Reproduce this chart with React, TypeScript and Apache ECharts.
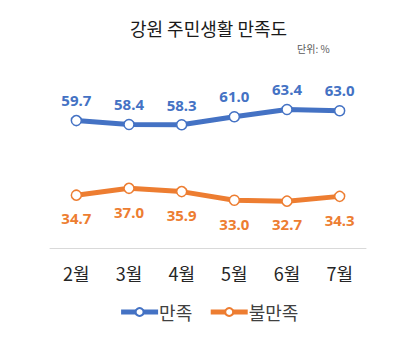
import React, { useEffect, useRef } from "react";
import * as echarts from "echarts";

const categories = ["2월", "3월", "4월", "5월", "6월", "7월"];
const satisfied = [59.7, 58.4, 58.3, 61.0, 63.4, 63.0];
const dissatisfied = [34.7, 37.0, 35.9, 33.0, 32.7, 34.3];
const seriesNames = ["만족", "불만족"];

const BLUE = "#4472C4";
const ORANGE = "#ED7D31";
const KR = "'Noto Sans CJK KR', 'Noto Sans', sans-serif";

export default function App() {
  const ref = useRef<HTMLDivElement>(null);
  useEffect(() => {
    if (!ref.current) return;
    const chart = echarts.init(ref.current, null, { renderer: "svg" });
    const mkSeries = (name: string, data: number[], color: string, pos: string, dist: number) => ({
      name,
      type: "line",
      data,
      symbol: "circle",
      symbolSize: 10,
      showAllSymbol: true,
      lineStyle: { color, width: 5 },
      itemStyle: { color: "#fff", borderColor: color, borderWidth: 1.5 },
      label: {
        show: true,
        position: pos,
        distance: dist,
        color,
        fontWeight: "bold",
        fontSize: 15,
        fontFamily: "'Noto Sans', sans-serif",
        formatter: (p: any) => Number(p.value).toFixed(1),
      },
      emphasis: { disabled: true },
    });
    chart.setOption({
      animation: false,
      backgroundColor: "#fff",
      title: [
        {
          text: "강원 주민생활 만족도",
          left: "center",
          top: 14,
          textStyle: { fontSize: 18, fontWeight: "normal", color: "#1a1a1a", fontFamily: KR },
        },
        {
          text: "단위: %",
          left: 292,
          top: 38,
          textStyle: { fontSize: 10, fontWeight: "normal", color: "#595959", fontFamily: KR },
        },
      ],
      legend: {
        bottom: 11,
        left: "center",
        itemWidth: 37,
        itemHeight: 10,
        itemGap: 16,
        lineStyle: { width: 5 },
        textStyle: { fontSize: 18, color: "#404040", fontFamily: KR, padding: [0, 0, 0, -4] },
        data: seriesNames,
      },
      grid: { left: 50, right: 51, top: 60, bottom: 89 },
      xAxis: {
        type: "category",
        data: categories,
        boundaryGap: true,
        axisLine: { lineStyle: { color: "#D9D9D9", width: 1 } },
        axisTick: { show: false },
        axisLabel: { fontSize: 18, color: "#262626", fontFamily: KR, margin: 16 },
      },
      yAxis: {
        type: "value",
        min: 17,
        max: 80,
        show: false,
        splitLine: { show: false },
      },
      series: [
        mkSeries(seriesNames[0], satisfied, BLUE, "top", 7),
        mkSeries(seriesNames[1], dissatisfied, ORANGE, "bottom", 10),
      ],
    });
    return () => chart.dispose();
  }, []);
  return <div ref={ref} style={{ width: 417, height: 337, position: "absolute", left: 0, top: 0 }} />;
}
